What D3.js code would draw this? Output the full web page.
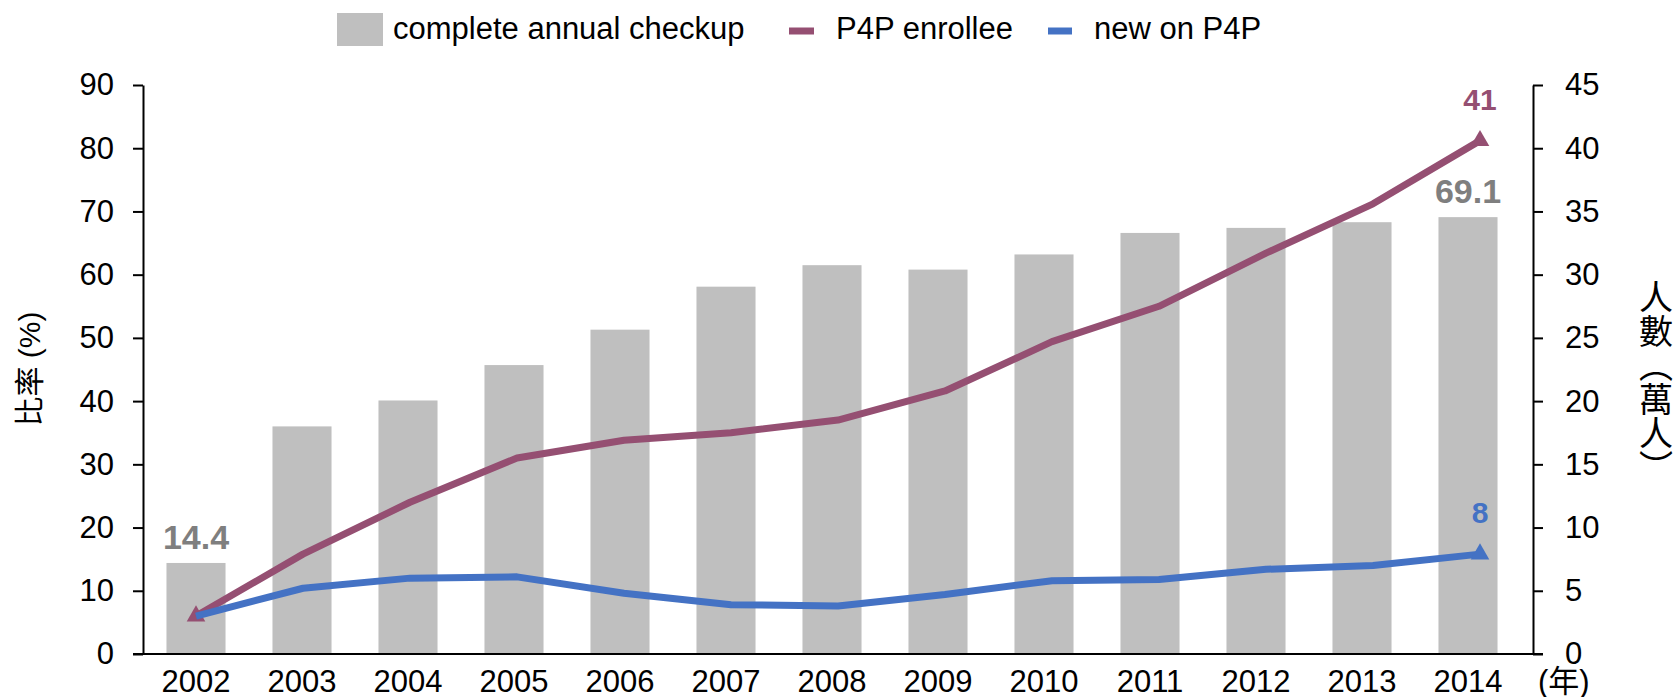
<!DOCTYPE html>
<html>
<head>
<meta charset="utf-8">
<script src="https://cdn.jsdelivr.net/npm/d3@7"></script>
<style>
  body { margin: 0; background: #fff; }
  text { font-family: "Liberation Sans", Arial, "Noto Sans CJK TC", sans-serif; }
</style>
</head>
<body>
<script>
// chart data
var years = ["2002","2003","2004","2005","2006","2007","2008","2009","2010","2011","2012","2013","2014"];
var checkup = [14.4, 36.0, 40.1, 45.7, 51.3, 58.1, 61.5, 60.8, 63.2, 66.6, 67.4, 68.3, 69.1];
var enrollee = [3.0, 7.9, 12.0, 15.5, 16.9, 17.5, 18.5, 20.8, 24.7, 27.5, 31.7, 35.6, 40.6];
var newOn = [3.0, 5.2, 6.0, 6.1, 4.8, 3.9, 3.8, 4.7, 5.8, 5.9, 6.7, 7.0, 7.9];
var leftTicks = [0, 10, 20, 30, 40, 50, 60, 70, 80, 90];
var rightTicks = [0, 5, 10, 15, 20, 25, 30, 35, 40, 45];

var width = 1677, height = 697;
var x0 = 143, x1 = 1533, yTop = 85, yBot = 654;

var svg = d3.select("body").append("svg")
  .attr("width", width)
  .attr("height", height);

// scales
var xBand = d3.scaleBand().domain(years).range([x0, 1521])
  .paddingInner(0.443).paddingOuter(0.2215);
var xPt = d3.scalePoint().domain(years).range([196, 1480]);
var yL = d3.scaleLinear().domain([0, 90]).range([yBot, yTop]);
var yR = d3.scaleLinear().domain([0, 45]).range([yBot, yTop]);

var GRAY = "#bfbfbf", PURPLE = "#954f72", BLUE = "#4472c4", LABEL_GRAY = "#7f7f7f";

// bars
svg.append("g").selectAll("rect")
  .data(checkup)
  .enter().append("rect")
  .attr("x", (d, i) => xBand(years[i]))
  .attr("y", d => yL(d))
  .attr("width", xBand.bandwidth())
  .attr("height", d => yBot - yL(d))
  .attr("fill", GRAY);

// lines
var line = d3.line()
  .x((d, i) => xPt(years[i]))
  .y(d => yR(d));

var tri = d3.symbol().type(d3.symbolTriangle).size(150);

function drawSeries(vals, color, markIdx) {
  svg.append("path")
    .attr("d", line(vals))
    .attr("fill", "none")
    .attr("stroke", color)
    .attr("stroke-width", 7)
    .attr("stroke-linejoin", "round");
  svg.append("g").selectAll("path")
    .data(markIdx)
    .enter().append("path")
    .attr("d", tri)
    .attr("transform", i => `translate(${xPt(years[i])},${yR(vals[i])})`)
    .attr("fill", color);
}
drawSeries(enrollee, PURPLE, [0, 12]);
drawSeries(newOn, BLUE, [12]);

// axes
var leftAxis = d3.axisLeft(yL).tickValues(leftTicks).tickSize(10).tickSizeOuter(0).tickPadding(19);
var gl = svg.append("g").attr("transform", `translate(${x0},0)`).call(leftAxis);

var rightAxis = d3.axisRight(yR).tickValues(rightTicks).tickSize(10).tickSizeOuter(0).tickPadding(22);
var gr = svg.append("g").attr("transform", `translate(${x1},0)`).call(rightAxis);

var bottomAxis = d3.axisBottom(xBand).tickSize(0).tickPadding(16);
var gb = svg.append("g").attr("transform", `translate(0,${yBot})`).call(bottomAxis);
gb.select(".domain").remove();

svg.append("line")
  .attr("x1", 133).attr("x2", 1543)
  .attr("y1", yBot).attr("y2", yBot)
  .attr("stroke", "#000").attr("stroke-width", 2);

[gl, gr, gb].forEach(function(g) {
  g.selectAll(".domain, .tick line").attr("stroke", "#000").attr("stroke-width", 2);
  g.selectAll("text")
    .style("font-family", '"Liberation Sans", Arial, sans-serif')
    .style("font-size", "31px")
    .attr("fill", "#000");
});

// year unit
svg.append("text")
  .attr("x", 1538).attr("y", 692)
  .style("font-size", "31px")
  .text("(年)");

// axis titles
svg.append("text")
  .attr("transform", "translate(29,369) rotate(-90)")
  .attr("text-anchor", "middle")
  .attr("dominant-baseline", "central")
  .style("font-size", "30px")
  .text("比率 (%)");

svg.append("text")
  .attr("x", 1656).attr("y", 382)
  .attr("text-anchor", "middle")
  .style("writing-mode", "vertical-rl")
  .style("font-family", '"Noto Sans CJK TC", sans-serif')
  .style("font-size", "34px")
  .text("人數（萬人）");

// data labels
[0, 12].forEach(function(i) {
  svg.append("text")
    .attr("x", xBand(years[i]) + xBand.bandwidth() / 2)
    .attr("y", yL(checkup[i]) - 14)
    .attr("text-anchor", "middle")
    .style("font-size", "34px")
    .style("font-weight", "bold")
    .attr("fill", LABEL_GRAY)
    .text(checkup[i].toFixed(1));
});

svg.append("text")
  .attr("x", xPt("2014")).attr("y", yR(enrollee[12]) - 31)
  .attr("text-anchor", "middle")
  .style("font-size", "30px").style("font-weight", "bold")
  .attr("fill", PURPLE)
  .text(Math.round(enrollee[12]));

svg.append("text")
  .attr("x", xPt("2014")).attr("y", yR(newOn[12]) - 31)
  .attr("text-anchor", "middle")
  .style("font-size", "30px").style("font-weight", "bold")
  .attr("fill", BLUE)
  .text(Math.round(newOn[12]));

// legend
var legend = svg.append("g");
legend.append("rect")
  .attr("x", 337).attr("y", 13).attr("width", 46).attr("height", 33)
  .attr("fill", GRAY);
legend.append("text").attr("x", 393).attr("y", 39)
  .style("font-size", "31px").text("complete annual checkup");

legend.append("line")
  .attr("x1", 789).attr("x2", 814).attr("y1", 31).attr("y2", 31)
  .attr("stroke", PURPLE).attr("stroke-width", 7);
legend.append("text").attr("x", 836).attr("y", 39)
  .style("font-size", "31px").text("P4P enrollee");

legend.append("line")
  .attr("x1", 1048).attr("x2", 1072).attr("y1", 31).attr("y2", 31)
  .attr("stroke", BLUE).attr("stroke-width", 7);
legend.append("text").attr("x", 1094).attr("y", 39)
  .style("font-size", "31px").text("new on P4P");
</script>
</body>
</html>
